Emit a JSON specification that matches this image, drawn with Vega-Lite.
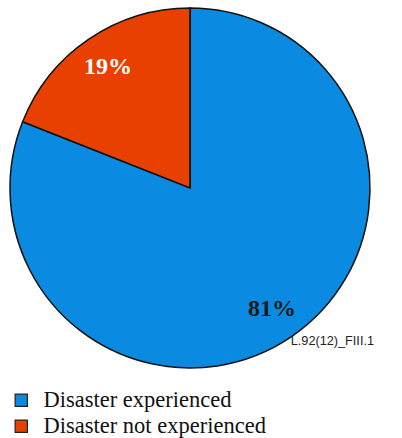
{
  "$schema": "https://vega.github.io/schema/vega-lite/v6.json",
  "width": 360,
  "height": 360,
  "autosize": {"type": "none"},
  "padding": {"left": 10, "top": 8, "right": 32, "bottom": 70},
  "background": "white",
  "config": {"view": {"stroke": null}},
  "title": {
    "text": "L.92(12)_FIII.1",
    "orient": "bottom",
    "anchor": "end",
    "font": "Liberation Sans",
    "fontSize": 12.7,
    "fontWeight": "normal",
    "color": "#222222",
    "dx": 1,
    "dy": -103,
    "offset": 0
  },
  "data": {
    "values": [
      {"category": "Disaster experienced", "share": 81, "label": "81%"},
      {"category": "Disaster not experienced", "share": 19, "label": "19%"}
    ]
  },
  "encoding": {
    "theta": {"field": "share", "type": "quantitative", "stack": true},
    "order": {"field": "share", "type": "quantitative", "sort": "descending"}
  },
  "layer": [
    {
      "mark": {"type": "arc", "outerRadius": 180, "stroke": "#111111", "strokeWidth": 1.5},
      "encoding": {
        "color": {
          "field": "category",
          "type": "nominal",
          "sort": ["Disaster experienced", "Disaster not experienced"],
          "scale": {"domain": ["Disaster experienced", "Disaster not experienced"], "range": ["#0a8ae0", "#e84000"]},
          "legend": {
            "title": null,
            "orient": "none",
            "legendX": 0,
            "legendY": 381,
            "direction": "vertical",
            "symbolType": "square",
            "symbolSize": 150,
            "symbolStrokeColor": "#222222",
            "symbolStrokeWidth": 1.2,
            "labelFont": "Liberation Serif",
            "labelFontSize": 22.5,
            "labelColor": "#111111",
            "labelOffset": 11,
            "rowPadding": 3,
            "labelLimit": 400
          }
        }
      }
    },
    {
      "mark": {"type": "text", "radius": 146, "font": "Liberation Serif", "fontSize": 24, "fontWeight": "bold"},
      "encoding": {
        "text": {"field": "label"},
        "color": {
          "condition": {"test": "datum.category === 'Disaster not experienced'", "value": "white"},
          "value": "#1a1a1a"
        }
      }
    }
  ]
}
